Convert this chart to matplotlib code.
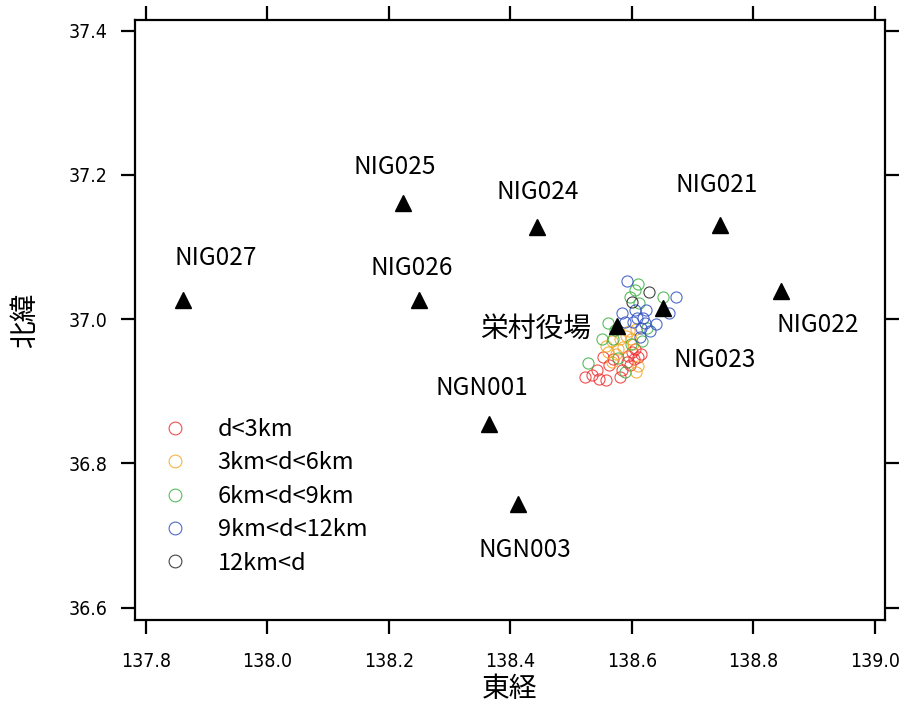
import matplotlib
matplotlib.use('Agg')
import matplotlib.pyplot as plt

plt.rcParams['font.family'] = ['Noto Sans CJK JP', 'DejaVu Sans']

# stations (lon, lat)
st_names = ['NIG027', 'NIG025', 'NIG026', 'NIG024', 'NIG021', 'NIG022',
            'NIG023', '栄村役場', 'NGN001', 'NGN003']
st_lon = [137.861, 138.223, 138.249, 138.444, 138.745, 138.845,
          138.651, 138.575, 138.365, 138.413]
st_lat = [37.027, 37.161, 37.027, 37.128, 37.130, 37.039,
          37.016, 36.991, 36.854, 36.743]
# label offsets in pixels
st_dx = [33, -8, -7, 1, -3, 37, 52, -81, -7, 7]
st_dy = [42, 36, 32, 35, 40, -34, -52, -3, 36, -46]

# events by hypocentral distance class
red_lon = [138.523, 138.534, 138.546, 138.557, 138.543, 138.562, 138.569, 138.580,
           138.592, 138.594, 138.600, 138.610, 138.615, 138.597, 138.552, 138.603,
           138.605, 138.584]
red_lat = [36.920, 36.923, 36.917, 36.916, 36.930, 36.937, 36.944, 36.920,
           36.940, 36.949, 36.955, 36.948, 36.951, 36.936, 36.947, 36.944,
           36.959, 36.930]
org_lon = [138.557, 138.567, 138.580, 138.590, 138.598, 138.602, 138.561, 138.574,
           138.595, 138.606, 138.585, 138.567, 138.610, 138.577, 138.607]
org_lat = [36.963, 36.969, 36.972, 36.976, 36.972, 36.965, 36.955, 36.951,
           36.984, 36.986, 36.962, 36.941, 36.935, 36.959, 36.927]
grn_lon = [138.528, 138.561, 138.569, 138.597, 138.612, 138.610, 138.605, 138.651,
           138.625, 138.577, 138.589, 138.598, 138.551, 138.617, 138.572]
grn_lat = [36.939, 36.995, 36.972, 37.030, 37.023, 37.049, 37.041, 37.030,
           36.987, 36.946, 36.927, 36.965, 36.972, 36.970, 36.985]
blu_lon = [138.592, 138.605, 138.584, 138.661, 138.619, 138.602, 138.589, 138.639,
           138.622, 138.614, 138.672, 138.630, 138.609, 138.615, 138.624]
blu_lat = [37.053, 37.012, 37.009, 37.009, 37.001, 36.996, 36.996, 36.993,
           36.994, 36.975, 37.031, 36.984, 37.001, 36.987, 37.013]
blk_lon = [138.628, 138.600]
blk_lat = [37.038, 37.024]

classes = [
    (red_lon, red_lat, '#f03030', 'd<3km'),
    (org_lon, org_lat, '#f5a623', '3km<d<6km'),
    (grn_lon, grn_lat, '#3cb043', '6km<d<9km'),
    (blu_lon, blu_lat, '#3050c0', '9km<d<12km'),
    (blk_lon, blk_lat, '#222222', '12km<d'),
]

fig = plt.figure(figsize=(9.06, 7.06), dpi=100)
ax = fig.add_axes([0.149, 0.122, 0.828, 0.850])

for lon, lat, c, lab in classes:
    ax.plot(lon, lat, 'o', mfc='none', mec=c, mew=0.8, ms=8, alpha=0.85, label=lab)

ax.plot(st_lon, st_lat, '^', color='black', ms=11, ls='none')
for name, x, y, dx, dy in zip(st_names, st_lon, st_lat, st_dx, st_dy):
    fs = 20 if name == '栄村役場' else 17.5
    ax.annotate(name, (x, y), xytext=(dx, dy), textcoords='offset pixels',
                ha='center', va='center', fontsize=fs)

ax.set_xlim(137.782, 139.017)
ax.set_ylim(36.583, 37.415)
ax.set_xticks([137.8, 138.0, 138.2, 138.4, 138.6, 138.8, 139.0])
ax.set_yticks([36.6, 36.8, 37.0, 37.2, 37.4])
ax.set_xticklabels(['137.8', '138.0', '138.2', '138.4', '138.6', '138.8', '139.0'])
ax.set_yticklabels(['36.6', '36.8', '37.0', '37.2', '37.4'])
for lab in ax.get_xticklabels() + ax.get_yticklabels():
    lab.set_family(['DejaVu Sans'])
    lab.set_stretch('condensed')
    lab.set_fontsize(14)
ax.tick_params(which='both', direction='out', length=10, width=1.6,
               top=True, right=True, labeltop=False, labelright=False, pad=10)
ax.tick_params(axis='x', pad=13)
for s in ax.spines.values():
    s.set_linewidth(1.6)

ax.set_xlabel('東経', fontsize=20, va='center')
ax.xaxis.set_label_coords(0.5, -0.115)
ax.set_ylabel('北緯', fontsize=20, va='center')
ax.yaxis.set_label_coords(-0.147, 0.5)

ax.legend(loc='lower left', bbox_to_anchor=(0.0, 0.04), frameon=False,
          fontsize=17, handletextpad=1.0, labelspacing=0.44, markerscale=1.15,
          handlelength=1.6)

fig.savefig('out.png', dpi=100)
